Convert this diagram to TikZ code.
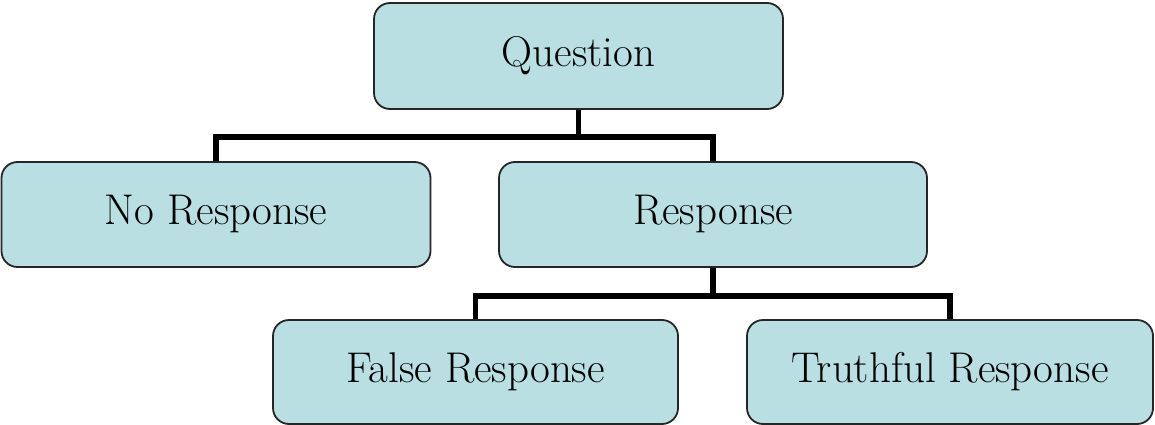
\documentclass[tikz,border=0pt]{standalone}
\usepackage{fontspec}
\setmainfont{Latin Modern Roman}
\usetikzlibrary{backgrounds}
\begin{document}
\begin{tikzpicture}[x=1pt,y=-1pt,
  box/.style={draw=black!85, line width=1.8pt, fill=boxfill, rounded corners=16pt,
    minimum height=105pt, inner sep=0pt, font=\fontsize{43}{48}\selectfont},
  conn/.style={line width=5.5pt, draw=black}]
\definecolor{boxfill}{HTML}{B9DFE3}
\useasboundingbox (0,0) rectangle (1155,425);
\node[box, minimum width=409pt, minimum height=106pt] (Q) at (578.5,56) {Question};
\node[box, minimum width=429pt] (NR) at (216,214.5) {No Response};
\node[box, minimum width=428pt] (R) at (713,214.5) {Response};
\node[box, minimum width=405pt, minimum height=104pt] (FR) at (475.5,372) {False Response};
\node[box, minimum width=406pt, minimum height=104pt] (TR) at (950,372) {Truthful Response};
\coordinate (j1) at (578.5,137);
\coordinate (j2) at (713,296);
\begin{scope}[on background layer]
\draw[conn] (Q.south) -- (j1);
\draw[conn] (j1) -| (NR.north);
\draw[conn] (j1) -| (R.north);
\draw[conn] (R.south) -- (j2);
\draw[conn] (j2) -| (FR.north);
\draw[conn] (j2) -| (TR.north);
\end{scope}
\end{tikzpicture}
\end{document}
